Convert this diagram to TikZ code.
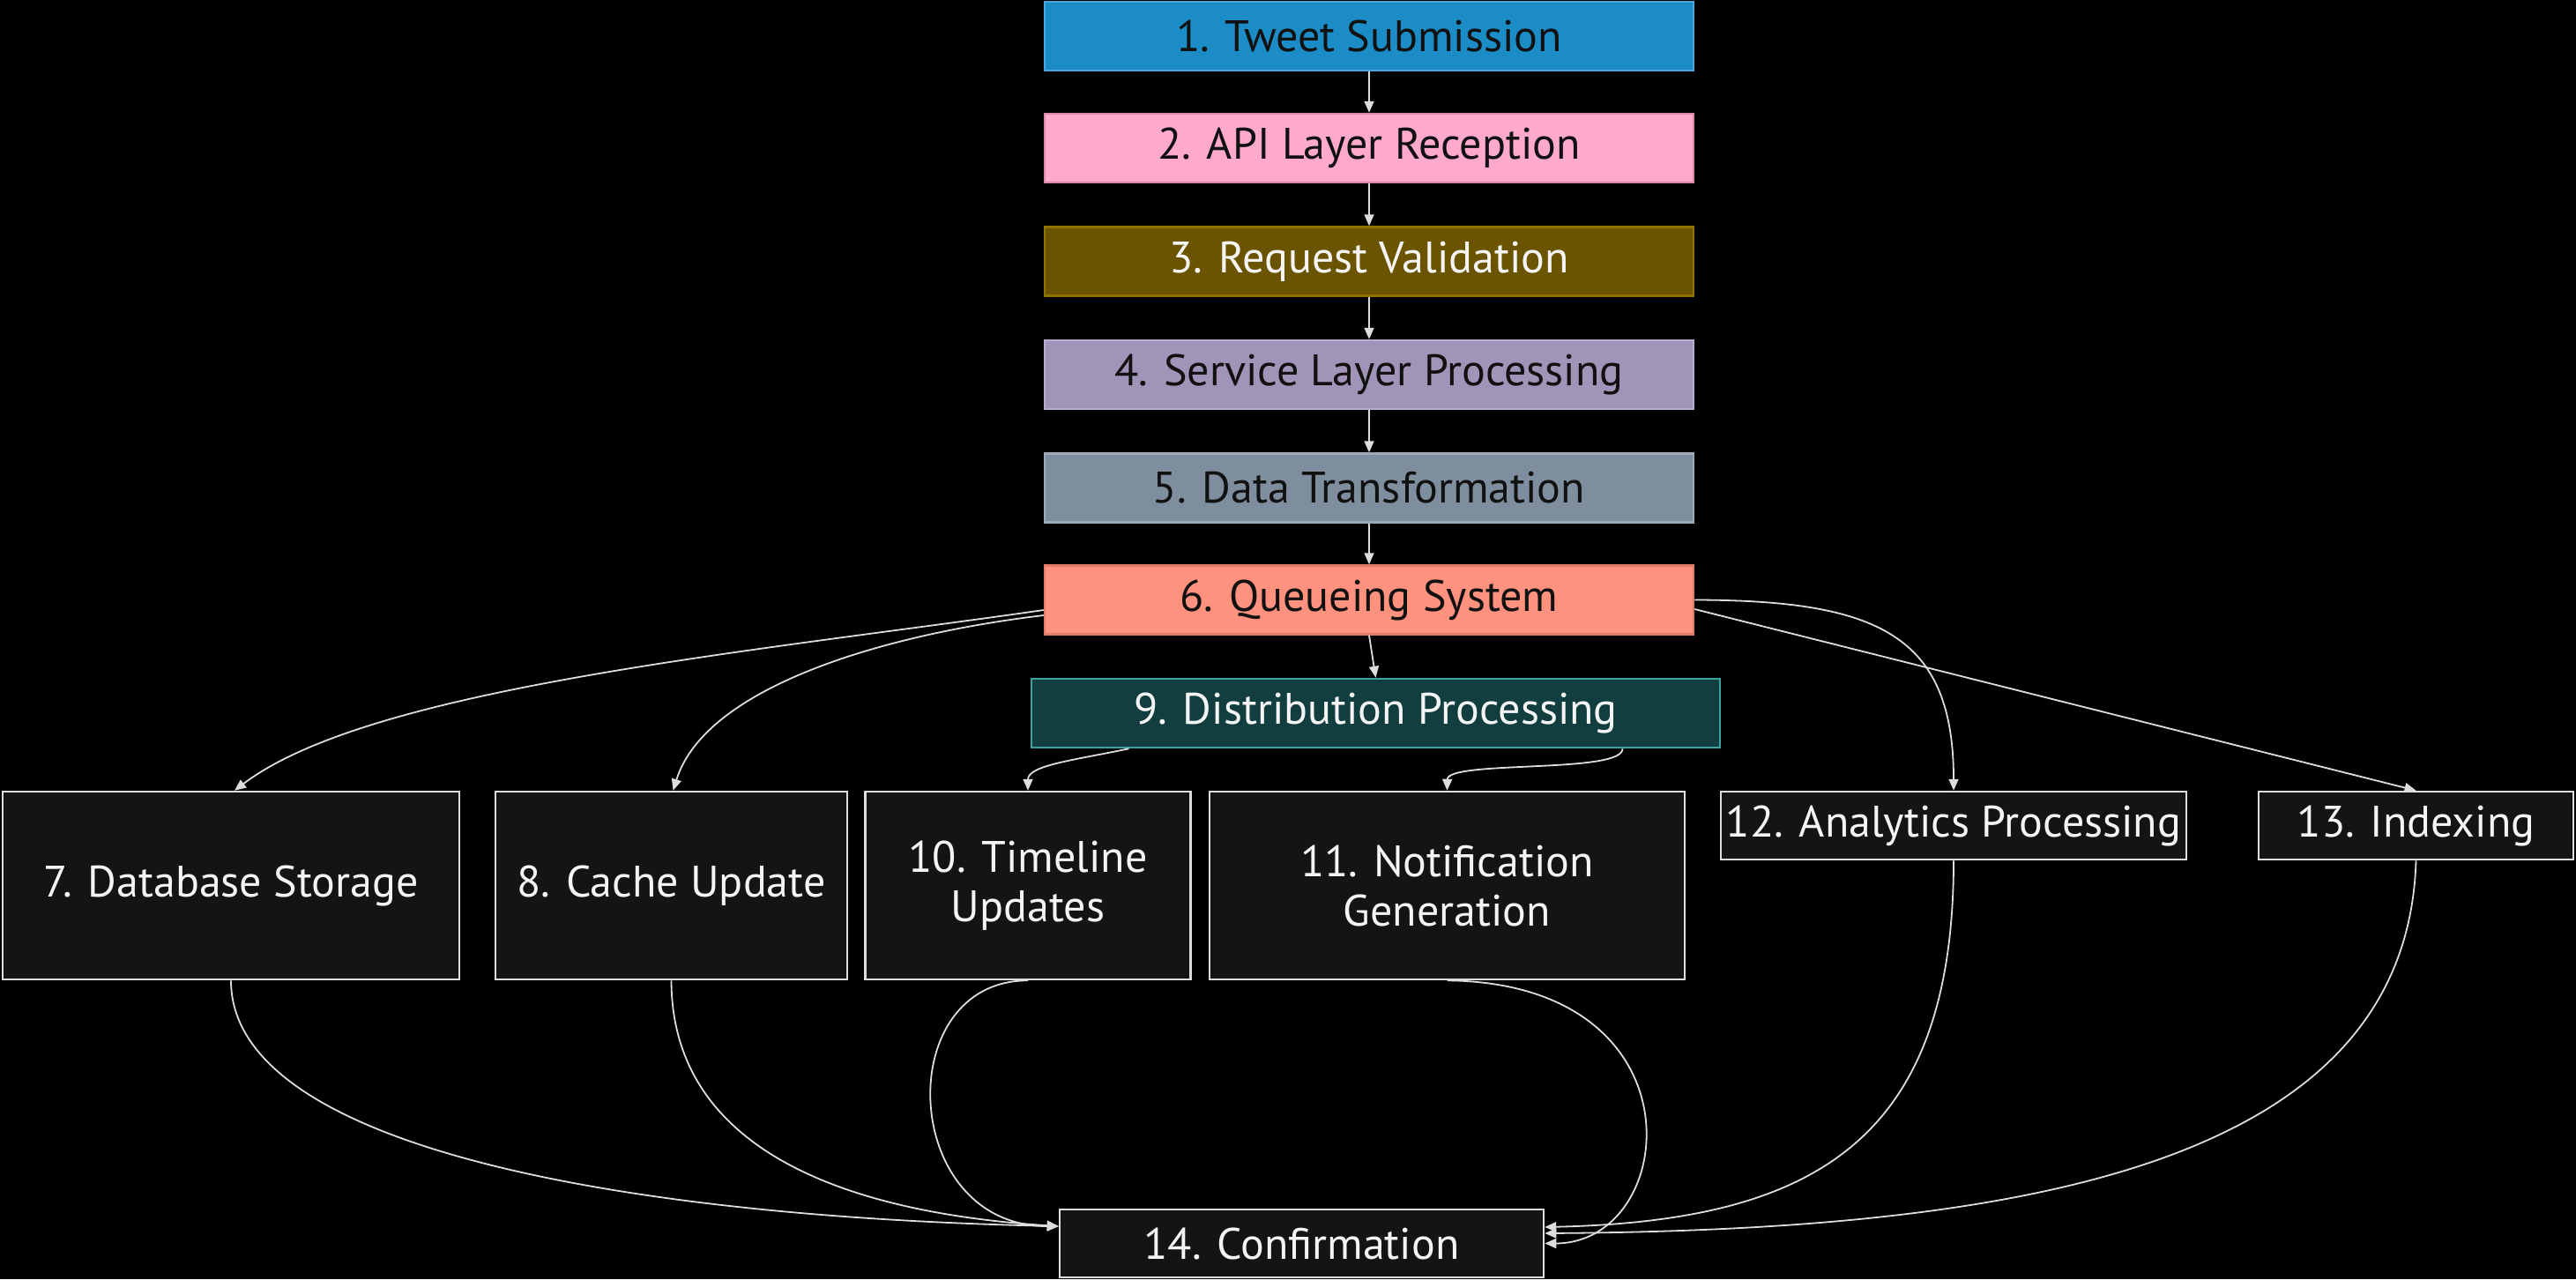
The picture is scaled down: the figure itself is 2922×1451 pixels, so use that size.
\documentclass[tikz,border=0pt]{standalone}
\usepackage{fontspec}
\setmainfont{PT Sans}
\usetikzlibrary{arrows.meta,calc}
\definecolor{bgc}{HTML}{000000}
\definecolor{c1}{HTML}{1B8CC6}\definecolor{b1}{HTML}{4AA8E0}
\definecolor{c2}{HTML}{FFAACC}\definecolor{b2}{HTML}{D98AA8}
\definecolor{c3}{HTML}{6B5400}\definecolor{b3}{HTML}{8F7400}
\definecolor{c4}{HTML}{A094B8}\definecolor{b4}{HTML}{B8ACD0}
\definecolor{c5}{HTML}{7F8E9E}\definecolor{b5}{HTML}{9AAAB8}
\definecolor{c6}{HTML}{FF917F}\definecolor{b6}{HTML}{E07A6A}
\definecolor{c9}{HTML}{123E40}\definecolor{b9}{HTML}{3AA3A3}
\definecolor{cd}{HTML}{141414}\definecolor{bd}{HTML}{DDDDDD}
\definecolor{edgec}{HTML}{DDDDDD}
\definecolor{darktext}{HTML}{111111}
\definecolor{lighttext}{HTML}{F4F4F4}
\tikzset{
  box/.style={rectangle, line width=2.5pt, inner sep=0pt, align=center,
    font=\fontsize{50}{56}\selectfont},
  lightbox/.style={box, text=darktext},
  darkbox/.style={box, fill=cd, draw=bd, text=lighttext},
  flow/.style={draw=edgec, line width=1.8pt, -{Triangle[length=13pt,width=11pt]}}
}
\begin{document}
\begin{tikzpicture}[x=1pt,y=-1pt]
\fill[bgc] (0,0) rectangle (2922,1451);
\useasboundingbox (0,0) rectangle (2922,1451);
% top column
\node[lightbox, fill=c1, draw=b1, minimum width=736pt, minimum height=78pt] (n1) at (1553,41) {1. Tweet Submission};
\node[lightbox, fill=c2, draw=b2, minimum width=736pt, minimum height=78pt] (n2) at (1553,168) {2. API Layer Reception};
\node[box, fill=c3, draw=b3, text=lighttext, minimum width=736pt, minimum height=78pt] (n3) at (1553,296.5) {3. Request Validation};
\node[lightbox, fill=c4, draw=b4, minimum width=736pt, minimum height=78pt] (n4) at (1553,425) {4. Service Layer Processing};
\node[lightbox, fill=c5, draw=b5, minimum width=736pt, minimum height=78pt] (n5) at (1553,553.5) {5. Data Transformation};
\node[lightbox, fill=c6, draw=b6, minimum width=736pt, minimum height=78pt] (n6) at (1553,680.5) {6. Queueing System};
\node[box, fill=c9, draw=b9, text=lighttext, minimum width=781pt, minimum height=78pt] (n9) at (1560.5,809) {9. Distribution Processing};
% row
\node[darkbox, minimum width=518pt, minimum height=213pt] (n7) at (262,1004.5) {7. Database Storage};
\node[darkbox, minimum width=399pt, minimum height=213pt] (n8) at (761.5,1004.5) {8. Cache Update};
\node[darkbox, minimum width=369pt, minimum height=213pt] (n10) at (1166,1004.5) {10. Timeline\\Updates};
\node[darkbox, minimum width=539pt, minimum height=213pt] (n11) at (1641.5,1004.5) {11. Notification\\Generation};
\node[darkbox, minimum width=528pt, minimum height=77pt] (n12) at (2216,936.5) {12. Analytics Processing};
\node[darkbox, minimum width=357pt, minimum height=77pt] (n13) at (2740.5,936.5) {13. Indexing};
\node[darkbox, minimum width=549pt, minimum height=77pt] (n14) at (1476.5,1410.5) {14. Confirmation};
% straight chain
\draw[flow] (n1.south) -- (n2.north);
\draw[flow] (n2.south) -- (n3.north);
\draw[flow] (n3.south) -- (n4.north);
\draw[flow] (n4.south) -- (n5.north);
\draw[flow] (n5.south) -- (n6.north);
\draw[flow] (n6.south) -- (n9.north);
% from queueing system
\draw[flow] ([yshift=-11.5pt]n6.west) .. controls (850,740) and (420,780) .. ([xshift=4pt]n7.north);
\draw[flow] ([yshift=-17.5pt]n6.west) .. controls (1000,720) and (800,780) .. ([xshift=2pt]n8.north);
\draw[flow] (n6.east) .. controls (2130,681) and (2216,720) .. (n12.north);
\draw[flow] ([yshift=-10.5pt]n6.east) -- (n13.north);
% from distribution
\draw[flow] ([xshift=-280pt]n9.south) .. controls (1220,862) and (1166,868) .. (n10.north);
\draw[flow] ([xshift=280pt]n9.south) .. controls (1841,878) and (1642,862) .. (n11.north);
% into confirmation
\draw[flow] (n7.south) .. controls (262,1300) and (700,1380) .. ([yshift=19.5pt]n14.west);
\draw[flow] (n8.south) .. controls (762,1300) and (950,1375) .. ([yshift=19.5pt]n14.west);
\draw[flow] (n10.south) .. controls (1010,1112) and (1020,1391) .. ([yshift=19.5pt]n14.west);
\draw[flow] (n11.south) .. controls (1935,1115) and (1905,1410) .. (n14.east);
\draw[flow] (n12.south) .. controls (2216,1300) and (2050,1385) .. ([yshift=18.5pt]n14.east);
\draw[flow] (n13.south) .. controls (2730,1320) and (2300,1395) .. ([yshift=11.5pt]n14.east);
\end{tikzpicture}
\end{document}
